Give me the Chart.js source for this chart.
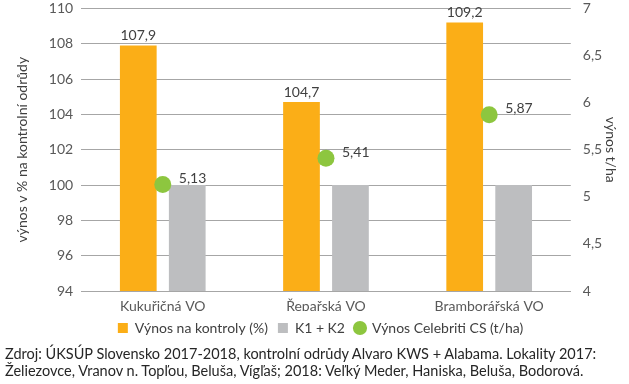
<!DOCTYPE html>
<html>
<head>
<meta charset="utf-8">
<script src="https://cdn.jsdelivr.net/npm/chart.js@4"></script>
<style>
  body { margin: 0; background: #fff; font-family: Lato, sans-serif; }
  #wrap { width: 629px; height: 345px; }
  .note { margin: 0 0 0 5px; font-size: 14.5px; line-height: 17px; color: #262626; white-space: nowrap; }
</style>
</head>
<body>
<div id="wrap"><canvas id="chart" width="629" height="345"></canvas></div>
<p class="note">Zdroj: ÚKSÚP Slovensko 2017-2018, kontrolní odrůdy Alvaro KWS + Alabama. Lokality 2017:<br>Želiezovce, Vranov n. Topľou, Beluša, Vígľaš; 2018: Veľký Meder, Haniska, Beluša, Bodorová.</p>
<script>
// Data
const categories = ['Kukuřičná VO', 'Řepařská VO', 'Bramborářská VO'];
const vynosPct = [107.9, 104.7, 109.2];      // left axis
const kontrola = [100, 100, 100];           // K1 + K2, left axis
const celebriti = [5.13, 5.41, 5.87];       // right axis, t/ha

const leftTicks = { min: 94, max: 110, step: 2 };
const rightTicks = { min: 4, max: 7, step: 0.5 };

const TEXT = '#595959';
const FONT = 'Lato, sans-serif';

function comma(v) {
  return String(v).replace('.', ',');
}

// Draw the value labels (orange bars above, green dots to the right)
const valueLabels = {
  id: 'valueLabels',
  afterDatasetsDraw(chart) {
    const ctx = chart.ctx;
    ctx.save();
    ctx.font = '14px ' + FONT;
    ctx.fillStyle = '#404040';

    chart.getDatasetMeta(0).data.forEach((bar, i) => {
      ctx.textAlign = 'center';
      ctx.textBaseline = 'bottom';
      ctx.fillText(comma(vynosPct[i]), bar.x, bar.y - 3);
    });

    chart.getDatasetMeta(2).data.forEach((pt, i) => {
      ctx.textAlign = 'left';
      ctx.textBaseline = 'middle';
      ctx.fillText(comma(celebriti[i].toFixed(2)), pt.x + 16, pt.y - 6);
    });
    ctx.restore();
  }
};

new Chart(document.getElementById('chart'), {
  data: {
    labels: categories,
    datasets: [
      {
        type: 'bar',
        label: 'Výnos na kontroly (%)',
        data: vynosPct,
        backgroundColor: '#FBAE17',
        yAxisID: 'y',
        categoryPercentage: 0.6,
        barPercentage: 0.75,
        pointStyle: 'rect',
        order: 2
      },
      {
        type: 'bar',
        label: 'K1 + K2',
        data: kontrola,
        backgroundColor: '#BDBEC0',
        yAxisID: 'y',
        categoryPercentage: 0.6,
        barPercentage: 0.75,
        pointStyle: 'rect',
        order: 2
      },
      {
        type: 'line',
        label: 'Výnos Celebriti CS (t/ha)',
        data: celebriti,
        yAxisID: 'y1',
        showLine: false,
        pointStyle: 'circle',
        pointRadius: 8.5,
        pointBackgroundColor: '#8DC63F',
        pointBorderWidth: 0,
        backgroundColor: '#8DC63F',
        borderColor: '#8DC63F',
        order: 1
      }
    ]
  },
  options: {
    responsive: false,
    animation: false,
    layout: { autoPadding: false, padding: { top: 3, left: 14, right: 2, bottom: 0 } },
    plugins: {
      legend: {
        position: 'bottom',
        maxHeight: 35,
        labels: {
          usePointStyle: true,
          boxWidth: 10,
          boxHeight: 10,
          padding: 10,
          color: '#404040',
          font: { family: FONT, size: 14 },
          sort: (a, b) => a.datasetIndex - b.datasetIndex
        }
      },
      tooltip: { enabled: false }
    },
    scales: {
      x: {
        grid: { display: false, drawTicks: false },
        border: { color: '#A6A6A6' },
        ticks: { color: TEXT, font: { family: FONT, size: 14 }, padding: 7 },
        afterFit: scale => { scale.height = 20; }
      },
      y: {
        position: 'left',
        min: leftTicks.min,
        max: leftTicks.max,
        ticks: {
          stepSize: leftTicks.step,
          color: TEXT,
          font: { family: FONT, size: 14 },
          padding: 0
        },
        grid: { color: '#A6A6A6', drawTicks: true, tickLength: 8, tickColor: 'rgba(0,0,0,0)' },
        border: { display: false },
        title: {
          display: true,
          text: 'výnos v % na kontrolní odrůdy',
          color: '#404040',
          font: { family: FONT, size: 14 },
          padding: { top: 0, bottom: 18 }
        }
      },
      y1: {
        position: 'right',
        min: rightTicks.min,
        max: rightTicks.max,
        ticks: {
          stepSize: rightTicks.step,
          color: TEXT,
          font: { family: FONT, size: 14 },
          padding: 0,
          callback: v => comma(v)
        },
        grid: { drawOnChartArea: false, drawTicks: true, tickLength: 12, tickColor: 'rgba(0,0,0,0)' },
        border: { display: false },
        title: {
          display: true,
          text: 'výnos t/ha',
          color: '#404040',
          font: { family: FONT, size: 14 },
          padding: { top: 8, bottom: 0 }
        }
      }
    }
  },
  plugins: [valueLabels]
});
</script>
</body>
</html>
